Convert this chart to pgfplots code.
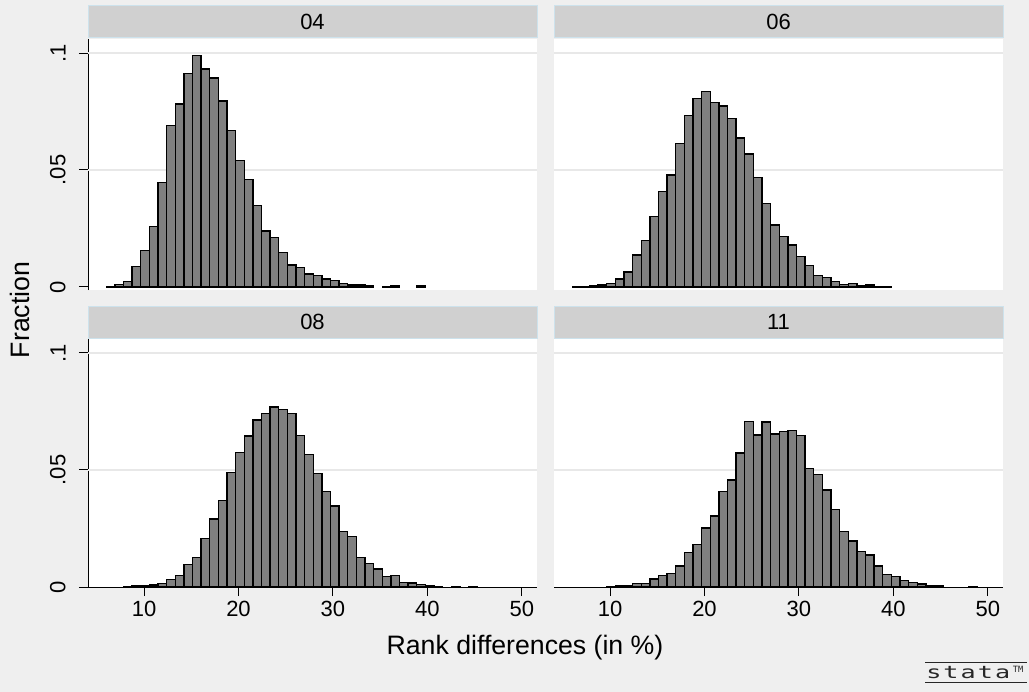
\documentclass[border=0pt]{standalone}
\usepackage{pgfplots}
\pgfplotsset{compat=1.18}
\usepackage{pgfplotstable}
\usepackage{fontspec}
\setmainfont{Liberation Sans}
\newfontfamily\logofont{DejaVu Sans Mono}
\usetikzlibrary{calc}

\definecolor{bgcol}{RGB}{239,239,239}
\definecolor{stripcol}{RGB}{208,208,208}
\definecolor{stripedge}{RGB}{205,226,236}
\definecolor{gridcol}{RGB}{232,232,232}
\definecolor{barcol}{RGB}{128,128,128}

\newcommand{\ticksize}{\fontsize{16.5}{18}\selectfont}
\newcommand{\titlesize}{\fontsize{20}{22}\selectfont}
\newcommand{\logoletter}[1]{\scalebox{1.45}[1]{#1}}

% Bin midpoints (width 0.913) and fraction per bin, one table per year
\pgfplotstableread{
x y
6.457 0.0003
7.370 0.0010
8.283 0.0024
9.196 0.0087
10.109 0.0157
11.022 0.0259
11.935 0.0447
12.848 0.0691
13.761 0.0782
14.674 0.0913
15.587 0.0989
16.500 0.0932
17.413 0.0893
18.326 0.0795
19.239 0.0670
20.152 0.0541
21.065 0.0459
21.978 0.0349
22.891 0.0239
23.804 0.0212
24.717 0.0148
25.630 0.0094
26.543 0.0084
27.456 0.0056
28.369 0.0050
29.282 0.0034
30.195 0.0027
31.108 0.0016
32.021 0.0009
32.934 0.0009
33.847 0.0004
35.673 0.0003
36.586 0.0004
39.325 0.0004
}\dataA

\pgfplotstableread{
x y
6.457 0.0003
7.370 0.0001
8.283 0.0004
9.196 0.0009
10.109 0.0014
11.022 0.0034
11.935 0.0064
12.848 0.0137
13.761 0.0198
14.674 0.0301
15.587 0.0407
16.500 0.0479
17.413 0.0614
18.326 0.0734
19.239 0.0805
20.152 0.0836
21.065 0.0788
21.978 0.0774
22.891 0.0721
23.804 0.0637
24.717 0.0568
25.630 0.0469
26.543 0.0358
27.456 0.0265
28.369 0.0217
29.282 0.0179
30.195 0.0131
31.108 0.0091
32.021 0.0050
32.934 0.0041
33.847 0.0024
34.760 0.0010
35.673 0.0014
36.586 0.0006
37.499 0.0009
38.412 0.0003
39.325 0.0003
}\dataB

\pgfplotstableread{
x y
8.283 0.0003
9.196 0.0004
10.109 0.0007
11.022 0.0009
11.935 0.0016
12.848 0.0033
13.761 0.0050
14.674 0.0095
15.587 0.0127
16.500 0.0207
17.413 0.0291
18.326 0.0370
19.239 0.0490
20.152 0.0574
21.065 0.0645
21.978 0.0714
22.891 0.0742
23.804 0.0769
24.717 0.0759
25.630 0.0741
26.543 0.0647
27.456 0.0566
28.369 0.0484
29.282 0.0407
30.195 0.0346
31.108 0.0236
32.021 0.0215
32.934 0.0127
33.847 0.0101
34.760 0.0077
35.673 0.0044
36.586 0.0048
37.499 0.0019
38.412 0.0017
39.325 0.0010
40.238 0.0007
41.151 0.0003
42.977 0.0003
44.803 0.0003
}\dataC

\pgfplotstableread{
x y
10.109 0.0003
11.022 0.0006
11.935 0.0007
12.848 0.0014
13.761 0.0014
14.674 0.0034
15.587 0.0050
16.500 0.0058
17.413 0.0090
18.326 0.0147
19.239 0.0181
20.152 0.0252
21.065 0.0303
21.978 0.0409
22.891 0.0457
23.804 0.0573
24.717 0.0708
25.630 0.0650
26.543 0.0705
27.456 0.0654
28.369 0.0665
29.282 0.0670
30.195 0.0647
31.108 0.0507
32.021 0.0480
32.934 0.0415
33.847 0.0330
34.760 0.0236
35.673 0.0197
36.586 0.0151
37.499 0.0137
38.412 0.0090
39.325 0.0053
40.238 0.0044
41.151 0.0028
42.064 0.0020
42.977 0.0013
43.890 0.0006
44.803 0.0006
48.455 0.0003
}\dataD

\pgfplotsset{
  panel/.style={
    scale only axis, anchor=north west,
    width=336.75pt,
    xmin=4.07, xmax=51.6,
    axis background/.style={fill=white},
    tick align=outside, major tick length=6.75pt,
    tick style={line width=0.75pt, color=black},
    axis line style={line width=0.75pt, color=black},
    ytick={0,0.05,0.1}, yticklabels={0,.05,.1},
    extra y ticks={0.05,0.1}, extra y tick labels={},
    extra y tick style={grid=major, major tick length=0pt},
    grid style={color=gridcol, line width=1.2pt},
    xtick={10,20,30,40,50},
    ticklabel style={font=\ticksize},
    yticklabel style={xshift=-6.5pt, rotate=90, anchor=south},
    /pgf/number format/assume math mode=true,
  },
  toprow/.style={panel, height=188.25pt, ymin=-0.0013, ymax=0.106, hide x axis},
  botrow/.style={panel, height=186.75pt, ymin=0, ymax=0.1064, axis x line*=bottom},
  leftcol/.style={axis y line*=left},
  rightcol/.style={axis y line*=left, y axis line style={draw=none}, ytick=\empty},
  hbar/.style={ybar, bar width=0.913, bar shift=0pt, fill=barcol, draw=black, line width=1pt},
}

\newcommand{\strip}[3]{%
  \fill[stripcol] (#1) rectangle (#2);
  \draw[stripedge, line width=0.75pt] (#1) rectangle (#2);
  \node[font=\ticksize, inner sep=0pt] at ($(#1)!0.5!(#2)$) {#3};
}

\begin{document}
\begin{tikzpicture}
\fill[bgcol] (0pt,0pt) rectangle (771.75pt,-519pt);

\begin{axis}[toprow, leftcol, at={(66pt,-29.25pt)}]
  \addplot[hbar] table[x=x, y=y] {\dataA};
\end{axis}
\begin{axis}[toprow, rightcol, at={(415.5pt,-29.25pt)}]
  \addplot[hbar] table[x=x, y=y] {\dataB};
\end{axis}
\begin{axis}[botrow, leftcol, at={(66pt,-253.5pt)}]
  \addplot[hbar] table[x=x, y=y] {\dataC};
\end{axis}
\begin{axis}[botrow, rightcol, at={(415.5pt,-253.5pt)}]
  \addplot[hbar] table[x=x, y=y] {\dataD};
\end{axis}

% panel headers
\strip{66pt,-4.5pt}{402.75pt,-28.5pt}{04}
\strip{415.5pt,-4.5pt}{752.25pt,-28.5pt}{06}
\strip{66pt,-229.5pt}{402.75pt,-253.5pt}{08}
\strip{415.5pt,-229.5pt}{752.25pt,-253.5pt}{11}

% shared axis titles
\node[font=\titlesize, rotate=90, inner sep=0pt] at (15pt,-232.5pt) {Fraction};
\node[font=\titlesize, inner sep=0pt] at (393.75pt,-486pt) {Rank differences (in \%)};

% logo
\draw[black!85, line width=0.7pt] (693.75pt,-496.5pt) -- (770.25pt,-496.5pt);
\draw[black!85, line width=0.7pt] (693.75pt,-511.5pt) -- (770.25pt,-511.5pt);
\node[font=\logofont\fontsize{13}{13}\selectfont, text=black!85, inner sep=0pt, anchor=west]
  at (694.5pt,-504.6pt) {\makebox[63pt][s]{\logoletter{s}\hfil\logoletter{t}\hfil\logoletter{a}\hfil\logoletter{t}\hfil\logoletter{a}}};
\node[font=\logofont\fontsize{6.5}{6.5}\selectfont, text=black!85, inner sep=0pt, anchor=west]
  at (759.5pt,-501.8pt) {TM};

\pgfresetboundingbox
\useasboundingbox (0pt,0pt) rectangle (771.75pt,-519pt);
\end{tikzpicture}
\end{document}
